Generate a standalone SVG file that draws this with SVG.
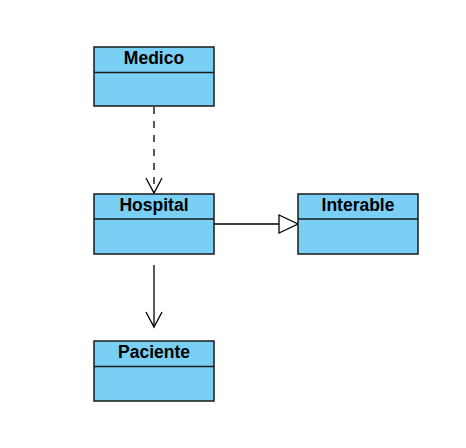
<svg xmlns="http://www.w3.org/2000/svg" width="466" height="448" viewBox="0 0 466 448">
<defs>
<style>
.box{fill:#79CFF4;stroke:#1a1a1a;stroke-width:1.5}
.div{stroke:#1a1a1a;stroke-width:1.5}
.t{font-family:"Liberation Sans",Arial,sans-serif;font-weight:bold;font-size:17.5px;fill:#000;text-anchor:middle}
.edge{fill:none;stroke:#000;stroke-width:1.3}
</style>
<marker id="open" viewBox="0 0 20 20" refX="16" refY="10" markerWidth="20" markerHeight="20" markerUnits="userSpaceOnUse" orient="auto">
<path d="M1,2 L16,10 L1,18" fill="none" stroke="#000" stroke-width="1.3"/>
</marker>
<marker id="tri" viewBox="0 0 22 22" refX="20" refY="11" markerWidth="22" markerHeight="22" markerUnits="userSpaceOnUse" orient="auto">
<path d="M1,2 L20,11 L1,20 Z" fill="#fff" stroke="#000" stroke-width="1.3"/>
</marker>
</defs>
<rect width="466" height="448" fill="#fff"/>
<g id="edges">
<path class="edge" d="M154,107 L154,193" stroke-dasharray="7,7" marker-end="url(#open)"/>
<path class="edge" d="M214,224 L298,224" marker-end="url(#tri)"/>
<path class="edge" d="M154,265 L154,327" marker-end="url(#open)"/>
</g>
<g id="Medico">
<rect class="box" x="94" y="47" width="120" height="59"/>
<line class="div" x1="94" y1="72.5" x2="214" y2="72.5"/>
<text class="t" x="154" y="64">Medico</text>
</g>
<g id="Hospital">
<rect class="box" x="94" y="194" width="120" height="60"/>
<line class="div" x1="94" y1="219" x2="214" y2="219"/>
<text class="t" x="154" y="211">Hospital</text>
</g>
<g id="Interable">
<rect class="box" x="298" y="194" width="120" height="60"/>
<line class="div" x1="298" y1="219" x2="418" y2="219"/>
<text class="t" x="358" y="211">Interable</text>
</g>
<g id="Paciente">
<rect class="box" x="94" y="341" width="120" height="60"/>
<line class="div" x1="94" y1="366.5" x2="214" y2="366.5"/>
<text class="t" x="154" y="358">Paciente</text>
</g>
</svg>
